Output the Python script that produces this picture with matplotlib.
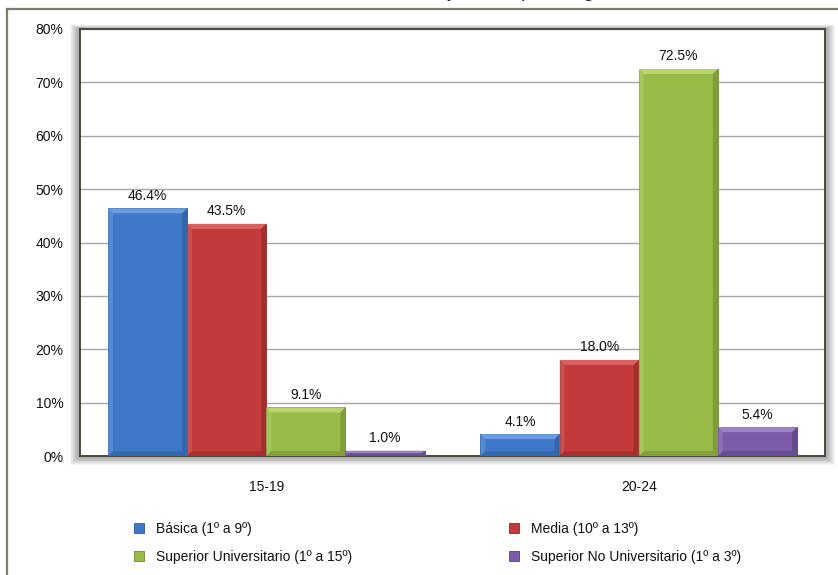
import matplotlib

matplotlib.use("Agg")
import matplotlib.pyplot as plt  # noqa: E402
import numpy as np  # noqa: E402
from matplotlib.lines import Line2D  # noqa: E402
from matplotlib.patches import Polygon, Rectangle  # noqa: E402

plt.rcParams["font.family"] = ["Liberation Sans", "DejaVu Sans"]

# data
age_groups = ["15-19", "20-24"]
levels = [
    "Básica (1º a 9º)",
    "Media (10º a 13º)",
    "Superior Universitario (1º a 15º)",
    "Superior No Universitario (1º a 3º)",
]
basica = [46.4, 4.1]
media = [43.5, 18.0]
sup_univ = [9.1, 72.5]
sup_no_univ = [1.0, 5.4]
y_ticks = [0, 10, 20, 30, 40, 50, 60, 70, 80]
title = "Gráfico 1: Nivel educativo de los jóvenes por rango de edad"

series = [basica, media, sup_univ, sup_no_univ]
# (main, light bevel, dark bevel)
COLORS = [
    ("#3F78C6", "#6FA2E3", "#2A5A9A"),
    ("#C23A3A", "#DE6666", "#8E2727"),
    ("#98BA47", "#BCD872", "#6F8A2F"),
    ("#7B5CA8", "#A386CD", "#573F7C"),
]

W, H = 838, 575
fig = plt.figure(figsize=(W / 100, H / 100), dpi=100)


def fx(px):
    return px / W


def fy(py):
    return 1 - py / H


# outer chart frame (only top and left edges are inside the picture)
frame_kw = dict(color="#7E7E68", linewidth=1.6, transform=fig.transFigure)
fig.add_artist(Line2D([fx(7), fx(7)], [fy(9), fy(H + 5)], **frame_kw))
fig.add_artist(Line2D([fx(7), fx(W + 5)], [fy(9), fy(9)], **frame_kw))

# title, mostly cut off by the top edge like in the reference
fig.text(fx(422), fy(-3), title, ha="center", va="baseline",
         fontsize=14, color="#222222")

left, right, top, bottom = 80, 825, 29, 456

# soft shadow round the plot area
for i in range(10, 0, -1):
    fig.add_artist(Rectangle((fx(left - i), fy(bottom + i * 0.9)),
                             fx(right - left + 2 * i),
                             fy(top - i * 0.4) - fy(bottom + i * 0.9),
                             transform=fig.transFigure, facecolor="#000000",
                             alpha=0.04, edgecolor="none", zorder=0))

ax = fig.add_axes([fx(left), fy(bottom), fx(right - left), fy(top) - fy(bottom)])
ax.set_facecolor("white")
ax.set_zorder(1)

x = np.arange(len(age_groups))
bw = 0.2125
offsets = (np.arange(len(series)) - 1.5) * bw
ax.set_xlim(-0.5, len(age_groups) - 0.5)
ax.set_ylim(0, 80)

containers = []
for vals, off, (c, lt, dk), lab in zip(series, offsets, COLORS, levels):
    bars = ax.bar(x + off, vals, bw, color=c, edgecolor=dk, linewidth=0.6,
                  zorder=3, label=lab)
    containers.append(bars)

# bevel on every bar, sized in pixels
to_data = ax.transData.inverted()
bev = 5
for bars, (c, lt, dk) in zip(containers, COLORS):
    for b in bars:
        x0, y0 = ax.transData.transform((b.get_x(), 0))
        x1, y1 = ax.transData.transform((b.get_x() + b.get_width(), b.get_height()))
        d = min(bev, (y1 - y0) / 2)
        faces = [
            ([(x0, y1), (x1, y1), (x1 - d, y1 - d), (x0 + d, y1 - d)], lt, 0.9),
            ([(x0, y0), (x0, y1), (x0 + d, y1 - d), (x0 + d, y0 + d)], lt, 0.45),
            ([(x1, y0), (x1, y1), (x1 - d, y1 - d), (x1 - d, y0 + d)], dk, 0.6),
            ([(x0, y0), (x1, y0), (x1 - d, y0 + d), (x0 + d, y0 + d)], dk, 0.5),
        ]
        for pts, col, a in faces:
            ax.add_patch(Polygon(to_data.transform(pts), closed=True,
                                 facecolor=col, edgecolor="none", alpha=a,
                                 zorder=4))

for bars in containers:
    for b in bars:
        ax.annotate(f"{b.get_height():.1f}%",
                    (b.get_x() + b.get_width() / 2, b.get_height()),
                    xytext=(0, 4), textcoords="offset points",
                    ha="center", va="bottom", fontsize=10, color="#111111",
                    zorder=5)

ax.set_yticks(y_ticks)
ax.set_yticklabels([f"{t}%" for t in y_ticks])
ax.set_xticks(x)
ax.set_xticklabels(age_groups)
ax.tick_params(axis="both", length=0, labelsize=10, colors="#111111")
ax.tick_params(axis="y", pad=12)
ax.tick_params(axis="x", pad=17)
ax.grid(axis="y", color="#A6A6A6", linewidth=1.0, zorder=1)
ax.set_axisbelow(True)
for s in ax.spines.values():
    s.set_color("#4A4A3C")
    s.set_linewidth(1.4)

# legend in two columns, placed like the reference
handles = [Rectangle((0, 0), 1, 1, facecolor=c, edgecolor=dk, linewidth=0.6)
           for c, lt, dk in COLORS]
leg_kw = dict(frameon=False, fontsize=10, handlelength=0.7, handleheight=0.7,
              handletextpad=0.9, labelspacing=1.0, borderpad=0,
              borderaxespad=0, loc="center left")
leg1 = fig.legend([handles[0], handles[2]], [levels[0], levels[2]],
                  bbox_to_anchor=(fx(134), fy(543)), **leg_kw)
leg2 = fig.legend([handles[1], handles[3]], [levels[1], levels[3]],
                  bbox_to_anchor=(fx(509), fy(543)), **leg_kw)
for leg in (leg1, leg2):
    for t in leg.get_texts():
        t.set_color("#111111")

fig.savefig("out.png", dpi=100)
